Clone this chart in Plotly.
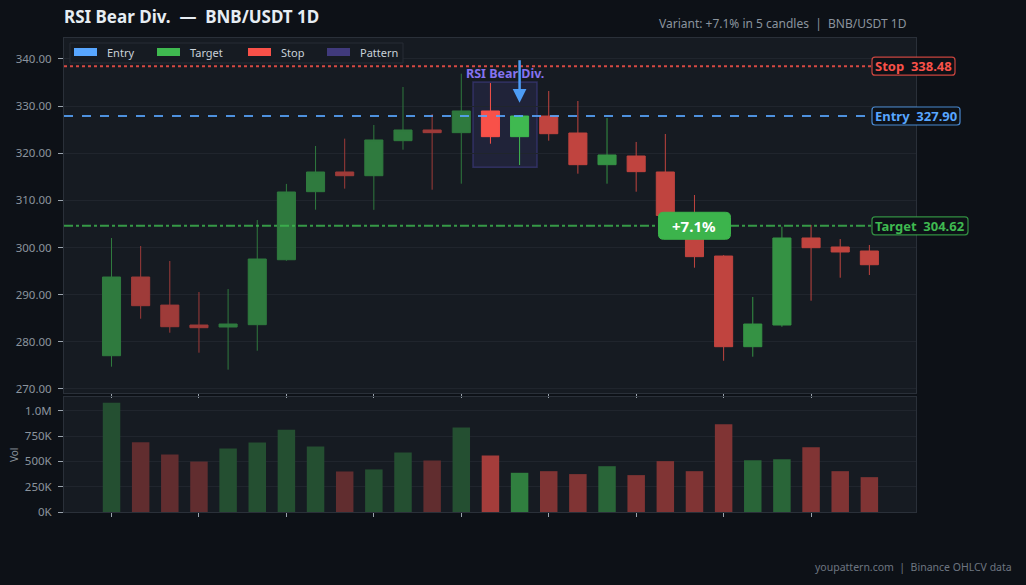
import plotly.graph_objects as go

# ---------------- data ----------------
candle_idx = list(range(27))
opens  = [277.06, 293.75, 287.80, 283.57, 283.15, 283.64, 297.42, 311.85, 316.03, 315.24,
          322.67, 324.94, 324.37, 328.97, 323.52, 327.90, 324.30, 317.58, 319.42, 316.03,
          305.50, 298.20, 278.97, 283.57, 302.03, 300.12, 299.27]
highs  = [302.03, 300.33, 297.15, 290.57, 291.20, 305.85, 313.50, 321.54, 323.10, 326.00,
          334.06, 328.33, 336.88, 334.90, 328.10, 333.21, 331.09, 327.48, 322.40, 324.09,
          311.15, 298.40, 289.51, 304.43, 304.80, 301.80, 300.54]
lows   = [274.73, 284.91, 281.94, 277.70, 274.10, 278.12, 297.20, 308.03, 312.50, 308.00,
          320.76, 312.27, 313.55, 322.03, 317.51, 322.67, 315.67, 313.55, 311.85, 305.20,
          295.73, 276.00, 276.85, 283.20, 288.73, 293.60, 294.18]
closes = [293.75, 287.67, 283.21, 283.00, 283.78, 297.57, 311.79, 316.03, 315.24, 322.82,
          324.94, 324.37, 328.97, 323.52, 327.90, 324.15, 317.58, 319.64, 316.10, 306.80,
          298.07, 278.97, 283.78, 302.03, 299.97, 299.06, 296.36]
volumes = [1079000, 689000, 567000, 498000, 626000, 685000, 813000, 646000, 400000, 420000,
           587000, 508000, 833000, 557000, 387000, 403000, 374000, 452000, 364000, 502000,
           403000, 866000, 511000, 521000, 639000, 403000, 344000]
# phase of each candle: before pattern / pattern / after pattern
phase = ["pre"] * 13 + ["pat"] * 2 + ["post"] * 12

entry_price = 327.90
target_price = 304.62
stop_price = 338.48
pattern_start, pattern_end = 13, 14
gain_label = "+7.1%"
gain_candle = 20

price_ticks = [270, 280, 290, 300, 310, 320, 330, 340]
vol_tickvals = [0, 250000, 500000, 750000, 1000000]
vol_ticktext = ["0K", "250K", "500K", "750K", "1.0M"]
x_tickvals = list(range(0, 27, 3))
legend_names = ["Entry", "Target", "Stop", "Pattern"]

# ---------------- style ----------------
BG = "#0d1117"
PLOT_BG = "#161b22"
GRID = "#20252d"
AXIS_TXT = "#8b949e"
GREEN = (63, 185, 80)
RED = (248, 81, 73)
BLUE = "#58a6ff"
FONT = "Noto Sans"

# pixel frame of the plotting area (used only to place decorations)
L, R, T, B = 64, 916, 38, 512
PW, PH = R - L, B - T


def px(xp):
    return (xp - L) / PW


def py(yp):
    return (B - yp) / PH


candle_alpha = {"pre": 0.6, "pat": 1.0, "post": 0.75}
vol_alpha = {"pre": 0.33, "pat": 0.63, "post": 0.47}


def rgba(c, a):
    return f"rgba({c[0]},{c[1]},{c[2]},{a})"


def blend(c, a):
    bg = (22, 27, 34)
    return "rgb(%d,%d,%d)" % tuple(round(a * c[i] + (1 - a) * bg[i]) for i in range(3))


fig = go.Figure()

for ph in ["pre", "pat", "post"]:
    sel = [i for i in candle_idx if phase[i] == ph]
    a = candle_alpha[ph]
    fig.add_trace(go.Candlestick(
        x=[candle_idx[i] for i in sel],
        open=[opens[i] for i in sel],
        high=[highs[i] for i in sel],
        low=[lows[i] for i in sel],
        close=[closes[i] for i in sel],
        increasing=dict(line=dict(color=blend(GREEN, a), width=1), fillcolor=blend(GREEN, a)),
        decreasing=dict(line=dict(color=blend(RED, a), width=1), fillcolor=blend(RED, a)),
        showlegend=False, hoverinfo="skip", xaxis="x", yaxis="y",
    ))

vol_colors = [blend(GREEN if closes[i] >= opens[i] else RED, vol_alpha[phase[i]]) for i in candle_idx]
fig.add_trace(go.Bar(x=candle_idx, y=volumes, marker=dict(color=vol_colors, line=dict(width=0)),
                     width=0.6, showlegend=False, hoverinfo="skip", xaxis="x2", yaxis="y2"))

shapes = []
annotations = []

# pattern box
shapes.append(dict(type="rect", xref="x", yref="y",
                   x0=pattern_start - 0.6, x1=pattern_end + 0.6,
                   y0=min(lows[pattern_start:pattern_end + 1]) - 0.5,
                   y1=max(highs[pattern_start:pattern_end + 1]) + 0.2,
                   fillcolor="rgba(100,90,220,0.13)", line=dict(color="rgba(100,90,220,0.30)", width=1.5),
                   layer="below"))
# level lines
shapes.append(dict(type="line", xref="paper", yref="y", x0=0, x1=1, y0=stop_price, y1=stop_price,
                   line=dict(color=rgba(RED, 0.85), width=2, dash="dot")))
shapes.append(dict(type="line", xref="paper", yref="y", x0=0, x1=1, y0=entry_price, y1=entry_price,
                   line=dict(color="rgba(88,166,255,0.85)", width=2, dash="dash")))
shapes.append(dict(type="line", xref="paper", yref="y", x0=0, x1=1, y0=target_price, y1=target_price,
                   line=dict(color=rgba(GREEN, 0.8), width=2, dash="dashdot")))


def rounded(x0, x1, h, r):
    return (f"M {x0 + r},{-h} L {x1 - r},{-h} Q {x1},{-h} {x1},{-h + r} L {x1},{h - r} Q {x1},{h} {x1 - r},{h} "
            f"L {x0 + r},{h} Q {x0},{h} {x0},{h - r} L {x0},{-h + r} Q {x0},{-h} {x0 + r},{-h} Z")


# gain badge
shapes.append(dict(type="path", xref="x", yref="y", xsizemode="pixel", ysizemode="pixel",
                   xanchor=gain_candle, yanchor=target_price, path=rounded(-36, 36, 13.5, 5),
                   fillcolor="#3cb44c", line=dict(color="#3cb44c", width=1), layer="above"))

# custom legend
shapes.append(dict(type="rect", xref="paper", yref="paper", x0=px(70), x1=px(403), y0=py(63), y1=py(43),
                   fillcolor="#161b22", line=dict(color="#262c35", width=1), layer="above"))
legend_cols = [BLUE, rgba(GREEN, 1), rgba(RED, 1), "#403a7c"]
sw_x = [74, 157, 248, 327]
for name, col, sx in zip(legend_names, legend_cols, sw_x):
    shapes.append(dict(type="rect", xref="paper", yref="paper", x0=px(sx), x1=px(sx + 23),
                       y0=py(56), y1=py(48), fillcolor=col, line=dict(width=0), layer="above"))
    annotations.append(dict(text=name, xref="paper", yref="paper", x=px(sx + 31), y=py(53),
                            xanchor="left", yanchor="middle", showarrow=False,
                            font=dict(size=11, color="#c9d1d9", family=FONT)))

annotations += [
    dict(text="<b>RSI Bear Div.\u00a0 —\u00a0 BNB/USDT 1D</b>", xref="paper", yref="paper",
         x=px(62), y=py(17), xanchor="left", yanchor="middle", showarrow=False,
         font=dict(size=17, color="#e6edf3", family=FONT)),
    dict(text="Variant: +7.1% in 5 candles\u00a0 |\u00a0 BNB/USDT 1D", xref="paper", yref="paper",
         x=px(909), y=py(23), xanchor="right", yanchor="middle", showarrow=False,
         font=dict(size=12, color=AXIS_TXT, family=FONT)),
    dict(text="youpattern.com\u00a0 |\u00a0 Binance OHLCV data", xref="paper", yref="paper",
         x=px(1014), y=py(567), xanchor="right", yanchor="middle", showarrow=False,
         font=dict(size=10.5, color="#6e7681", family=FONT)),
    dict(text="Vol", xref="paper", yref="paper", x=px(14), y=py(455),
         textangle=-90, showarrow=False, xanchor="center", yanchor="middle",
         font=dict(size=10, color=AXIS_TXT, family=FONT)),
    dict(text="<b>RSI Bear Div.</b>", xref="x", yref="y", x=(pattern_start + pattern_end) / 2, y=337.0,
         showarrow=False, xanchor="center", yanchor="middle",
         font=dict(size=12.5, color="#8573f0", family=FONT)),
    dict(text="", xref="x", yref="y", x=pattern_end, y=330.7, ax=0, ay=-44, axref="pixel", ayref="pixel",
         showarrow=True, arrowhead=2, arrowsize=1.1, arrowwidth=2.5, arrowcolor="#4d9cf5"),
    dict(text=f"<b>{gain_label}</b>", xref="x", yref="y", x=gain_candle, y=target_price, showarrow=False,
         xanchor="center", yanchor="middle", font=dict(size=15, color="#ffffff", family=FONT)),
]
# level labels at the right edge: rounded box + text
for lbl, price, col, bcol, bw in [("Stop", stop_price, rgba(RED, 1), rgba(RED, 0.8), 83),
                                  ("Entry", entry_price, BLUE, "rgba(88,166,255,0.8)", 88),
                                  ("Target", target_price, rgba(GREEN, 1), rgba(GREEN, 0.75), 96)]:
    shapes.append(dict(type="path", xref="paper", yref="y", xsizemode="pixel", ysizemode="pixel",
                       xanchor=px(872), yanchor=price, path=rounded(0, bw, 9, 3),
                       fillcolor=BG, line=dict(color=bcol, width=1.2), layer="above"))
    annotations.append(dict(text=f"<b>{lbl}\u00a0 {price:.2f}</b>", xref="paper", yref="y",
                            x=px(873), y=price, xanchor="left", yanchor="middle", showarrow=False,
                            font=dict(size=13, color=col, family=FONT)))

axis_common = dict(showline=True, mirror=True, linecolor="#2a3039", linewidth=1,
                   tickfont=dict(size=11.5, color=AXIS_TXT, family=FONT),
                   ticks="outside", tickcolor="#9aa3ad", zeroline=False)

fig.update_layout(
    width=1026, height=585,
    paper_bgcolor=BG, plot_bgcolor=PLOT_BG,
    margin=dict(l=L, r=1026 - R, t=T, b=585 - B),
    font=dict(family=FONT, color=AXIS_TXT),
    boxgap=0.38, boxgroupgap=0,
    showlegend=False,
    xaxis=dict(domain=[0, 1], anchor="y", range=[-1.63, 27.6], tickvals=x_tickvals,
               showticklabels=False, showgrid=False, rangeslider=dict(visible=False),
               ticklen=4, **axis_common),
    yaxis=dict(domain=[py(393), 1], anchor="x", range=[269.15, 344.45],
               tickvals=price_ticks, tickformat=".2f", showgrid=True, gridcolor=GRID,
               ticklen=5, ticklabelstandoff=4, **axis_common),
    xaxis2=dict(domain=[0, 1], anchor="y2", matches="x", tickvals=x_tickvals,
                showticklabels=False, showgrid=False, ticklen=4, **axis_common),
    yaxis2=dict(domain=[0, py(397)], anchor="x2", range=[0, 1135000],
                tickvals=vol_tickvals, ticktext=vol_ticktext, showgrid=True, gridcolor=GRID,
                ticklen=5, ticklabelstandoff=4, **axis_common),
    shapes=shapes,
    annotations=annotations,
)

fig.write_html("out.html")
